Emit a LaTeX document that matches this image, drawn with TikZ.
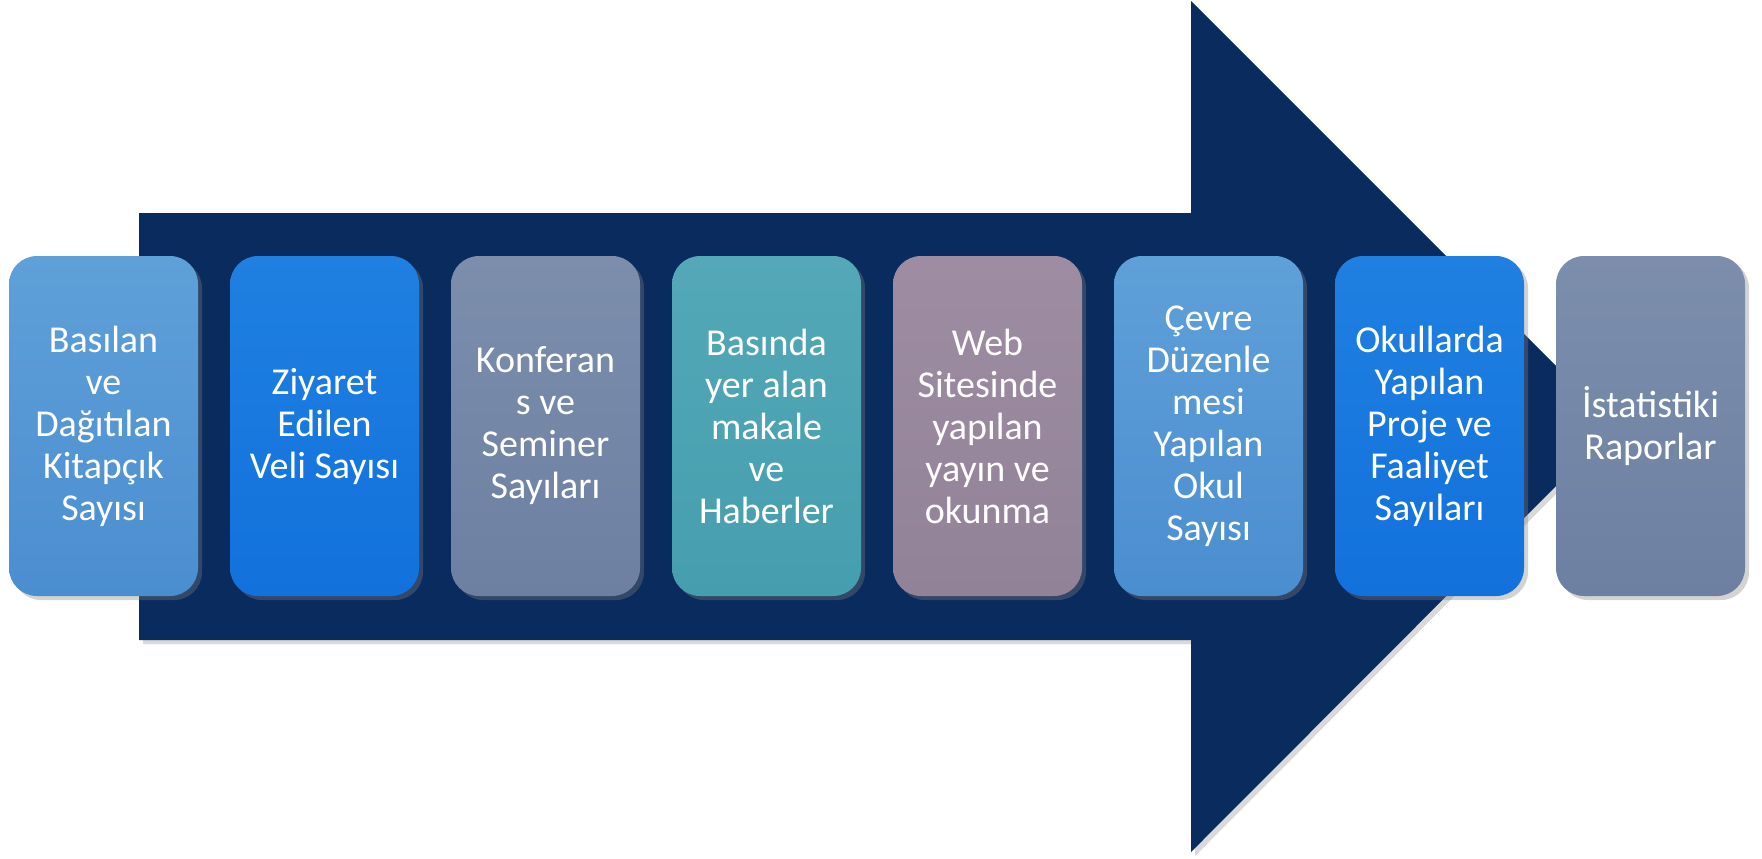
\documentclass[tikz,border=0pt]{standalone}
\usepackage{fontspec}
\setmainfont{Carlito}
\usetikzlibrary{positioning,shadows}

\definecolor{navy}{HTML}{0A2B5E}
\definecolor{lblueT}{HTML}{5FA0D9}
\definecolor{lblueB}{HTML}{4B8ED0}
\definecolor{blueT}{HTML}{1F80E1}
\definecolor{blueB}{HTML}{1271DC}
\definecolor{greyT}{HTML}{7C8EAC}
\definecolor{greyB}{HTML}{6D80A2}
\definecolor{tealT}{HTML}{54A8B7}
\definecolor{tealB}{HTML}{459EAE}
\definecolor{mauveT}{HTML}{9E8DA2}
\definecolor{mauveB}{HTML}{928298}

\begin{document}
\begin{tikzpicture}[x=0.5pt,y=-0.5pt,node distance=110.5pt,
  box/.style={rounded corners=14pt, minimum width=94.5pt, minimum height=170pt,
    text width=90pt, inner sep=2pt, align=flush center, text=white,
    font=\fontsize{19}{21}\selectfont,
    drop shadow={shadow xshift=2pt, shadow yshift=-2pt, opacity=0.35}}]

\useasboundingbox (0,0) rectangle (1762,858);

% big arrow behind the boxes
\fill[navy, drop shadow={shadow xshift=2pt, shadow yshift=-2pt, opacity=0.3}]
  (139,213) -- (1191,213) -- (1191,1) -- (1616,426) -- (1191,852) -- (1191,640) -- (139,640) -- cycle;

\node[box, top color=lblueT, bottom color=lblueB] (A) at (103.5,426) {Basılan\\ve\\Dağıtılan\\Kitapçık\\Sayısı};
\node[box, top color=blueT, bottom color=blueB] (B) [right of = A] {Ziyaret\\Edilen\\Veli Sayısı};
\node[box, top color=greyT, bottom color=greyB] (C) [right of = B] {Konferan\\s ve\\Seminer\\Sayıları};
\node[box, top color=tealT, bottom color=tealB] (D) [right of = C] {Basında\\yer alan\\makale\\ve\\Haberler};
\node[box, top color=mauveT, bottom color=mauveB] (E) [right of = D] {Web\\Sitesinde\\yapılan\\yayın ve\\okunma};
\node[box, top color=lblueT, bottom color=lblueB] (F) [right of = E] {Çevre\\Düzenle\\mesi\\Yapılan\\Okul\\Sayısı};
\node[box, top color=blueT, bottom color=blueB] (G) [right of = F] {Okullarda\\Yapılan\\Proje ve\\Faaliyet\\Sayıları};
\node[box, top color=greyT, bottom color=greyB] (H) [right of = G] {İstatistiki\\Raporlar};

\end{tikzpicture}
\end{document}
